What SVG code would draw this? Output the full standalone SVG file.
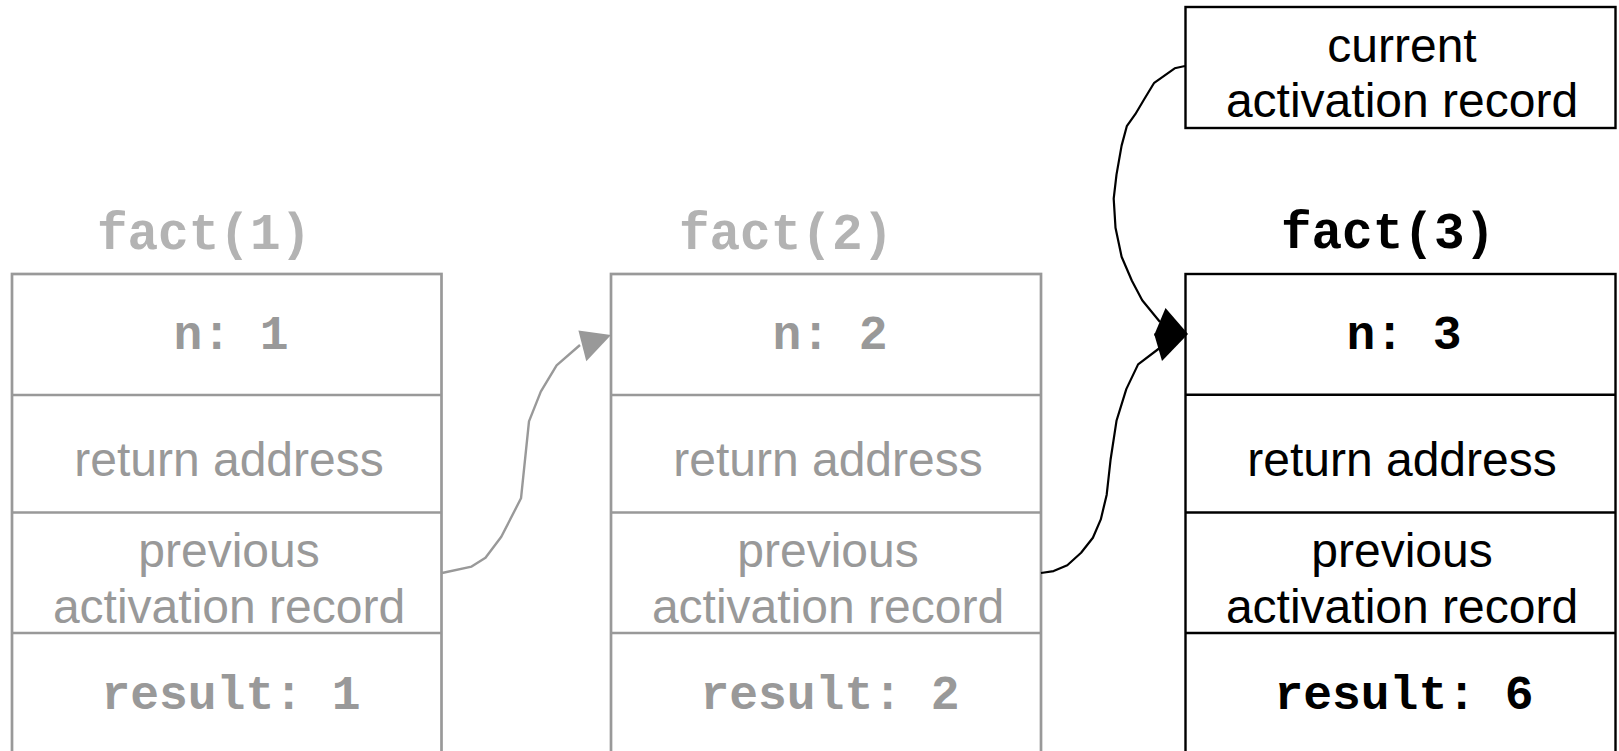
<svg xmlns="http://www.w3.org/2000/svg" width="1619" height="751" viewBox="0 0 1619 751">
  <style>
    .bg { fill: #ffffff; }
    .frame-old { fill: #ffffff; stroke: #999999; stroke-width: 2.7; }
    .sep-old { stroke: #999999; stroke-width: 2.7; }
    .frame-cur { fill: #ffffff; stroke: #000000; stroke-width: 2.4; }
    .sep-cur { stroke: #000000; stroke-width: 2.4; }
    .sans { font-family: "Liberation Sans", Arial, sans-serif; font-size: 48px; text-anchor: middle; }
    .mono { font-family: "Liberation Mono", "Courier New", monospace; font-weight: bold; font-size: 48px; text-anchor: middle; }
    .title { font-family: "Liberation Mono", "Courier New", monospace; font-weight: bold; font-size: 51px; text-anchor: middle; }
    .grey { fill: #999999; }
    .faint { fill: #b3b3b3; }
    .black { fill: #000000; }
    .link-old { fill: none; stroke: #999999; stroke-width: 2.4; stroke-linejoin: round; }
    .link-cur { fill: none; stroke: #000000; stroke-width: 2.2; stroke-linejoin: round; }
    .head-old { fill: #999999; }
    .head-cur { fill: #000000; }
  </style>
  <rect class="bg" x="0" y="0" width="1619" height="751"/>

  <!-- activation record for fact(1) -->
  <g id="fact1">
    <text class="title faint" x="204" y="249">fact(1)</text>
    <rect class="frame-old" x="12" y="274" width="429.5" height="490"/>
    <line class="sep-old" x1="12" y1="395" x2="441.5" y2="395"/>
    <line class="sep-old" x1="12" y1="512.5" x2="441.5" y2="512.5"/>
    <line class="sep-old" x1="12" y1="633" x2="441.5" y2="633"/>
    <text class="mono grey" x="231" y="349">n: 1</text>
    <text class="sans grey" x="229" y="476">return address</text>
    <text class="sans grey" x="229" y="567">previous</text>
    <text class="sans grey" x="229" y="623">activation record</text>
    <text class="mono grey" x="231" y="709">result: 1</text>
  </g>

  <!-- activation record for fact(2) -->
  <g id="fact2">
    <text class="title faint" x="786" y="249">fact(2)</text>
    <rect class="frame-old" x="611" y="274" width="430" height="490"/>
    <line class="sep-old" x1="611" y1="395" x2="1041" y2="395"/>
    <line class="sep-old" x1="611" y1="512.5" x2="1041" y2="512.5"/>
    <line class="sep-old" x1="611" y1="633" x2="1041" y2="633"/>
    <text class="mono grey" x="830" y="349">n: 2</text>
    <text class="sans grey" x="828" y="476">return address</text>
    <text class="sans grey" x="828" y="567">previous</text>
    <text class="sans grey" x="828" y="623">activation record</text>
    <text class="mono grey" x="830" y="709">result: 2</text>
  </g>

  <!-- activation record for fact(3) -->
  <g id="fact3">
    <text class="title black" x="1388" y="248">fact(3)</text>
    <rect class="frame-cur" x="1185.5" y="274" width="430" height="490"/>
    <line class="sep-cur" x1="1185.5" y1="394.7" x2="1615.5" y2="394.7"/>
    <line class="sep-cur" x1="1185.5" y1="512.5" x2="1615.5" y2="512.5"/>
    <line class="sep-cur" x1="1185.5" y1="633" x2="1615.5" y2="633"/>
    <text class="mono black" x="1404" y="349">n: 3</text>
    <text class="sans black" x="1402" y="476">return address</text>
    <text class="sans black" x="1402" y="567">previous</text>
    <text class="sans black" x="1402" y="623">activation record</text>
    <text class="mono black" x="1404" y="709">result: 6</text>
  </g>

  <!-- pointer to the current activation record -->
  <g id="current">
    <rect class="frame-cur" x="1185.5" y="7" width="430" height="121"/>
    <text class="sans black" x="1402" y="62">current</text>
    <text class="sans black" x="1402" y="117">activation record</text>
  </g>

  <!-- links between records -->
  <g id="connectors">
    <path class="link-old" d="M442,573 L471.6,566.6 L485.5,557.8 L501.3,536.8 L521,498.3 L529,421.4 L540.8,391.6 L556.6,365.4 L580,345"/>
    <polygon class="head-old" points="611,335 578.4,330.4 586.3,361.2"/>

    <path class="link-cur" d="M1041,573 L1053.6,571.1 L1067.3,565.2 L1081.1,552.8 L1092.9,537.7 L1100.8,519.4 L1106.7,494.7 L1110.6,459.5 L1116.5,420.8 L1126.3,389.1 L1138.1,364.4 L1161,347"/>
    <polygon class="head-cur" points="1188,334 1154,333.5 1162,361"/>

    <path class="link-cur" d="M1185,66 L1174.7,68.3 L1154.2,82.8 L1143.9,99.7 L1135.3,114.2 L1126.8,126.2 L1121.6,145.6 L1116.5,174.6 L1113.7,198.7 L1115.5,227.7 L1121.6,256.7 L1131.9,280.8 L1142.2,300.2 L1160,322"/>
    <polygon class="head-cur" points="1188,334 1154,335.5 1165.5,308"/>
  </g>
</svg>
